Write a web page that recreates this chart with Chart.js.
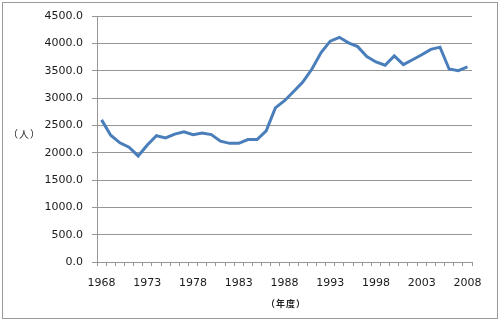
<!DOCTYPE html>
<html>
<head>
<meta charset="utf-8">
<script src="https://cdn.jsdelivr.net/npm/chart.js@4"></script>
<style>
  html, body { margin: 0; padding: 0; background: #fff; }
  #wrap { position: relative; width: 500px; height: 321px; }
  #frame { position: absolute; left: 2px; top: 2px; width: 494px; height: 315px; border: 1px solid #9a9a9a; pointer-events: none; }
  .axis-title { position: absolute; font-family: "Noto Sans CJK JP", "DejaVu Sans", sans-serif; color: #222; white-space: nowrap; }
  #yTitle { left: 8px; top: 126px; font-size: 10px; letter-spacing: 1px; }
  #xTitle { left: 266px; top: 297px; font-size: 9px; font-weight: bold; letter-spacing: 1px; }
</style>
</head>
<body>
<div id="wrap">
  <canvas id="chart" width="500" height="321"></canvas>
  <div id="frame"></div>
  <div class="axis-title" id="yTitle">（人）</div>
  <div class="axis-title" id="xTitle">（年度）</div>
</div>
<script>
// Data
const years = [];
for (let y = 1968; y <= 2008; y++) years.push(String(y));

const people = [
  2600, 2320, 2180, 2100, 1940, 2140, 2310, 2270, 2340, 2380,
  2330, 2360, 2330, 2210, 2170, 2170, 2240, 2240, 2400, 2820,
  2950, 3120, 3290, 3530, 3830, 4040, 4110, 4010, 3940, 3760,
  3660, 3600, 3770, 3610, 3700, 3790, 3890, 3930, 3530, 3500,
  3570
];

const yMax = 4500;
const yStep = 500;

const gridColor = "#969696";
const labelColor = "#1a1a1a";
const tickFont = { family: "DejaVu Sans", size: 11 };

const ctx = document.getElementById("chart").getContext("2d");

new Chart(ctx, {
  type: "line",
  data: {
    labels: years,
    datasets: [{
      label: "人",
      data: people,
      borderColor: "#4a7ebb",
      borderWidth: 3,
      pointRadius: 0,
      tension: 0,
      fill: false
    }]
  },
  options: {
    responsive: false,
    animation: false,
    layout: { padding: { left: 0, right: 28, top: 16, bottom: 0 } },
    plugins: {
      legend: { display: false },
      tooltip: { enabled: false }
    },
    scales: {
      x: {
        type: "category",
        offset: true,
        afterFit: scale => { scale.height = 59; },
        border: { color: gridColor, width: 1 },
        grid: {
          offset: true,
          drawOnChartArea: false,
          drawTicks: true,
          tickLength: 4,
          color: gridColor
        },
        ticks: {
          autoSkip: false,
          maxRotation: 0,
          padding: 11,
          color: labelColor,
          font: tickFont,
          callback: (val, idx) => (idx % 5 === 0 ? years[idx] : "")
        }
      },
      y: {
        min: 0,
        max: yMax,
        afterFit: scale => { scale.width = 97; },
        border: { color: gridColor, width: 1 },
        grid: {
          color: gridColor,
          lineWidth: 1,
          drawTicks: true,
          tickLength: 5
        },
        ticks: {
          stepSize: yStep,
          padding: 9,
          color: labelColor,
          font: tickFont,
          callback: v => v.toFixed(1)
        }
      }
    }
  }
});
</script>
</body>
</html>
